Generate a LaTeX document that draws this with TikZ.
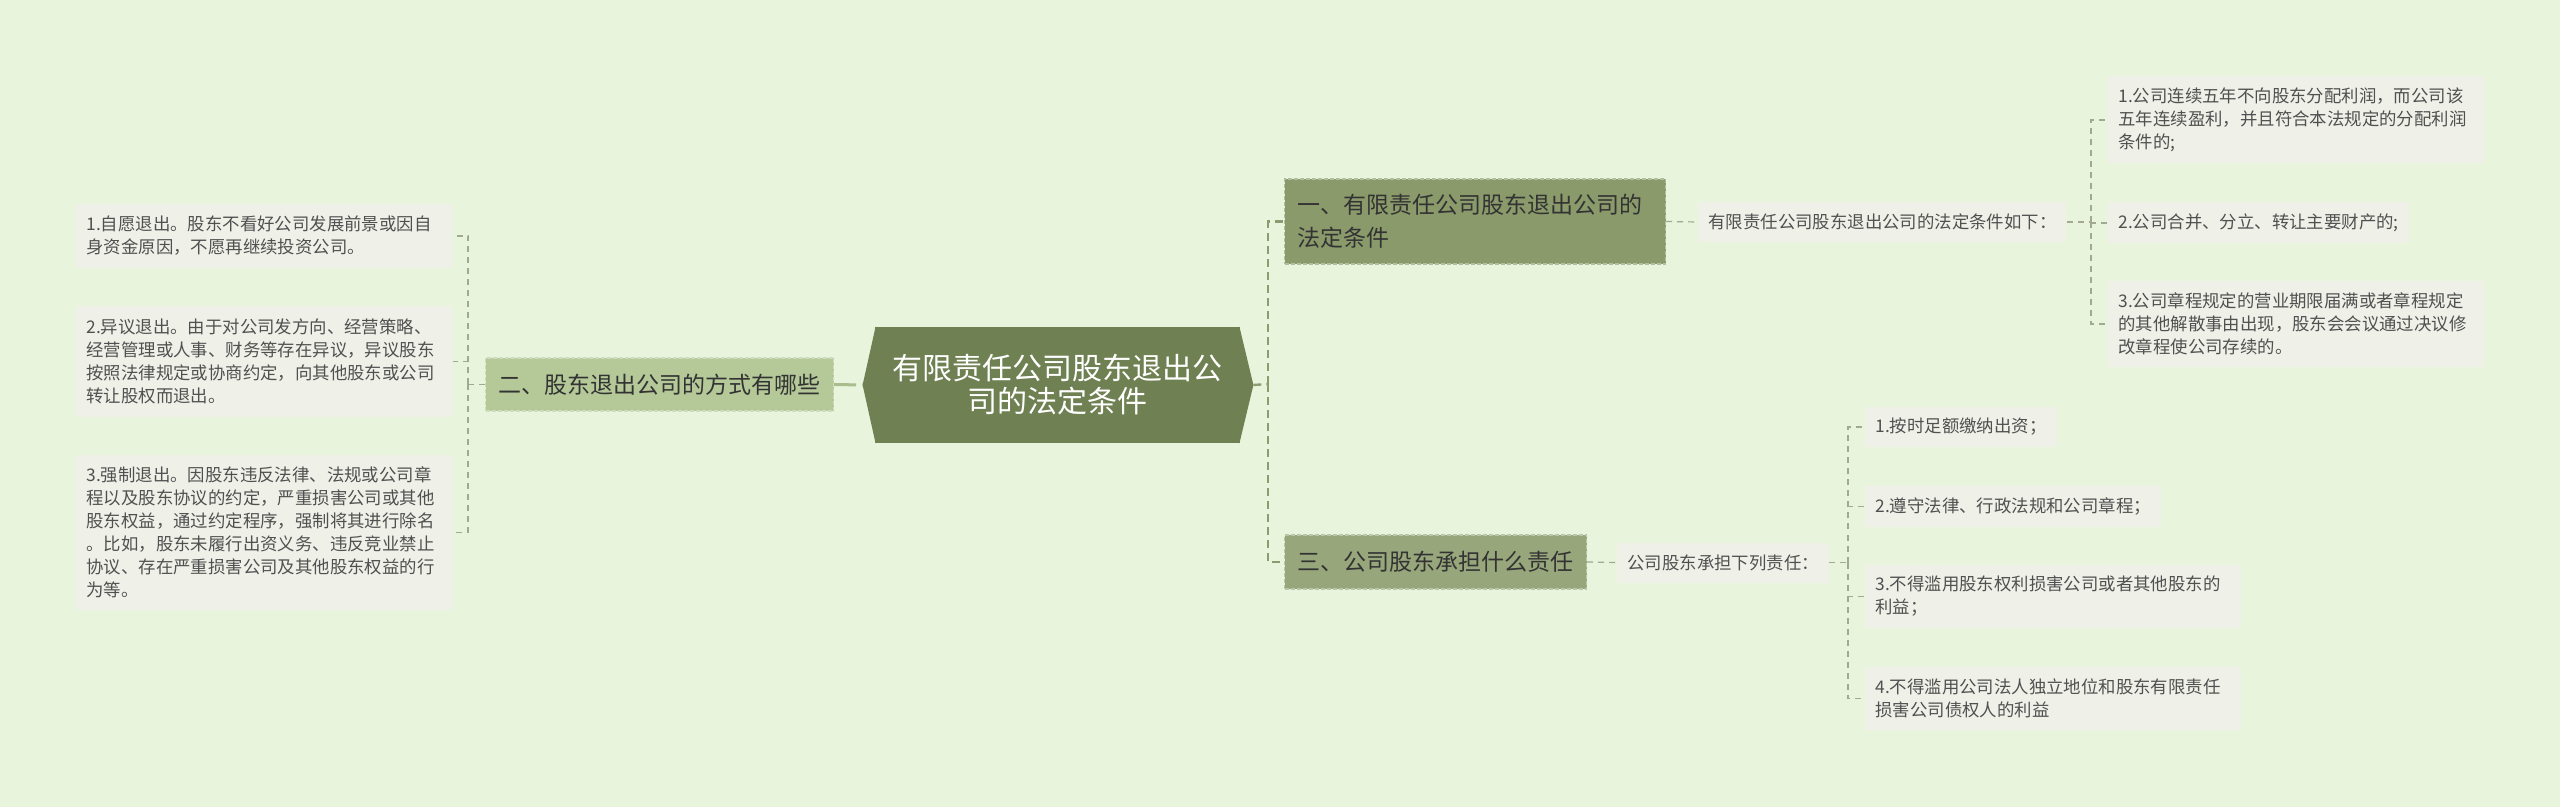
\documentclass[tikz,border=0pt]{standalone}
\usepackage{fontspec}
\setmainfont{Noto Sans CJK SC}

\definecolor{pagebg}{HTML}{E8F5DC}
\definecolor{rootfill}{HTML}{6F8052}
\definecolor{onefill}{HTML}{8A9A6B}
\definecolor{twofill}{HTML}{B4C898}
\definecolor{threefill}{HTML}{97A67B}
\definecolor{leafbg}{HTML}{EFF1E8}
\definecolor{leafink}{HTML}{505050}
\definecolor{topicink}{HTML}{333333}
\definecolor{twigc}{HTML}{A3A892}
\definecolor{trunkc}{HTML}{8C9C70}
\definecolor{stemc}{HTML}{AABD8F}

\tikzset{
  rootbox/.style={fill=rootfill, text=white, minimum width=182.5pt, minimum height=58pt,
    inner sep=0pt, align=center, font=\fontsize{15pt}{16.5pt}\selectfont},
  topic/.style={anchor=west, inner xsep=6.5pt, inner ysep=3pt, draw=white!35!#1, fill=#1,
    line width=0.6pt, dash pattern=on 2pt off 1pt, text=topicink, align=left,
    font=\fontsize{11.5pt}{16.5pt}\selectfont},
  leaf/.style={anchor=west, fill=leafbg, text=leafink, inner xsep=5pt, inner ysep=3pt,
    align=left, minimum height=20pt, font=\fontsize{8.7pt}{11.5pt}\selectfont},
  leafwide/.style={leaf, text width=178pt},
  twig/.style={draw=twigc, line width=0.6pt, dash pattern=on 3pt off 2.5pt},
  trunk/.style={draw=trunkc, line width=1.2pt, dash pattern=on 4pt off 2.5pt},
  stem/.style={draw=stemc, line width=1.5pt, dash pattern=on 11pt off 3pt}
}

\begin{document}
\begin{tikzpicture}[x=0.5pt,y=-0.5pt]
  \fill[pagebg] (0,0) rectangle (2560,807);
  \useasboundingbox (0,0) rectangle (2560,807);

  % centre
  \node[rootbox] (root) at (1057.5,385) {有限责任公司股东退出公\\司的法定条件};
  \coordinate (rootL) at ([xshift=-6pt]root.west);
  \coordinate (rootR) at ([xshift=6.5pt]root.east);
  \fill[rootfill] ([xshift=0.5pt]root.north west) -- (rootL) -- ([xshift=0.5pt]root.south west) -- cycle;
  \fill[rootfill] ([xshift=-0.5pt]root.north east) -- (rootR) -- ([xshift=-0.5pt]root.south east) -- cycle;

  % topics
  \node[topic=onefill, text width=177.5pt, minimum height=42.5pt] (one) at (1284,221.5)
    {一、有限责任公司股东退出公司的\\法定条件};
  \node[topic=twofill, minimum height=26.5pt] (two) at (485,384.5) {二、股东退出公司的方式有哪些};
  \node[topic=threefill, minimum height=27pt] (three) at (1284,562) {三、公司股东承担什么责任};

  \coordinate (rj) at (1268,384);
  \draw[trunk] (rootR) -- (rj);
  \draw[trunk] (rj) |- (one.west);
  \draw[trunk] (rj) |- (three.west);
  \draw[stem] (two.east) -- (rootL);

  % ways of leaving
  \node[leafwide, minimum height=32pt] (way1) at (76,236)
    {1.自愿退出。股东不看好公司发展前景或因自\\身资金原因，不愿再继续投资公司。};
  \node[leafwide, minimum height=55.5pt] (way2) at (76,361.5)
    {2.异议退出。由于对公司发方向、经营策略、\\经营管理或人事、财务等存在异议，异议股东\\按照法律规定或协商约定，向其他股东或公司\\转让股权而退出。};
  \node[leafwide, minimum height=77.5pt] (way3) at (76,532.5)
    {3.强制退出。因股东违反法律、法规或公司章\\程以及股东协议的约定，严重损害公司或其他\\股东权益，通过约定程序，强制将其进行除名\\。比如，股东未履行出资义务、违反竞业禁止\\协议、存在严重损害公司及其他股东权益的行\\为等。};
  \coordinate (wj) at (468,384.5);
  \draw[twig] (two.west) -- (wj);
  \foreach \n in {way1,way2,way3}
    \draw[twig] (wj) |- (\n.east);

  % legal conditions
  \node[leaf] (cond) at (1698,222) {有限责任公司股东退出公司的法定条件如下：};
  \node[leafwide, minimum height=43.5pt] (cond1) at (2108,120)
    {1.公司连续五年不向股东分配利润，而公司该\\五年连续盈利，并且符合本法规定的分配利润\\条件的;};
  \node[leaf, minimum height=20.5pt] (cond2) at (2108,223) {2.公司合并、分立、转让主要财产的;};
  \node[leafwide, minimum height=43pt] (cond3) at (2108,324)
    {3.公司章程规定的营业期限届满或者章程规定\\的其他解散事由出现，股东会会议通过决议修\\改章程使公司存续的。};
  \coordinate (cj) at (2091,222);
  \draw[twig] (one.east) -- (cond.west);
  \draw[twig] (cond.east) -- (cj);
  \foreach \n in {cond1,cond2,cond3}
    \draw[twig] (cj) |- (\n.west);

  % duties
  \node[leaf] (duty) at (1617,562.5) {公司股东承担下列责任：};
  \node[leaf] (duty1) at (1865,427) {1.按时足额缴纳出资；};
  \node[leaf, minimum height=20.5pt] (duty2) at (1865,506.5) {2.遵守法律、行政法规和公司章程；};
  \node[leafwide, minimum height=31.5pt] (duty3) at (1865,596.5)
    {3.不得滥用股东权利损害公司或者其他股东的\\利益；};
  \node[leafwide, minimum height=31.5pt] (duty4) at (1865,698.5)
    {4.不得滥用公司法人独立地位和股东有限责任\\损害公司债权人的利益};
  \coordinate (dj) at (1848,562.5);
  \draw[twig] (three.east) -- (duty.west);
  \draw[twig] (duty.east) -- (dj);
  \foreach \n in {duty1,duty2,duty3,duty4}
    \draw[twig] (dj) |- (\n.west);
\end{tikzpicture}
\end{document}
